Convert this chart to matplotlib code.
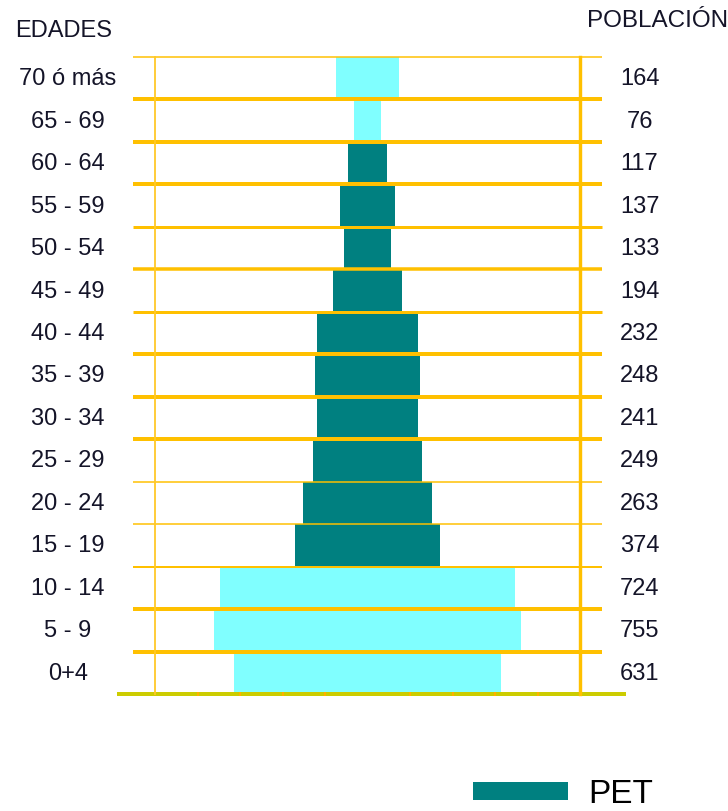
import numpy as np
import matplotlib
matplotlib.use("Agg")
import matplotlib.pyplot as plt
from matplotlib.patches import Patch
from matplotlib import font_manager

# grupos de edad, de abajo hacia arriba
edades = ["0+4", "5 - 9", "10 - 14", "15 - 19", "20 - 24", "25 - 29", "30 - 34",
          "35 - 39", "40 - 44", "45 - 49", "50 - 54", "55 - 59", "60 - 64",
          "65 - 69", "70 ó más"]
poblacion = [631, 755, 724, 374, 263, 249, 241, 248, 232, 194, 133, 137, 117, 76, 164]
# ancho de cada barra (eje de -500 a 500)
ancho = [627, 724, 692, 342, 302, 258, 238, 249, 238, 162, 111, 129, 93, 65, 148]
# grupos en edad de trabajar
pet = [False, False, False, True, True, True, True, True, True, True, True,
       True, True, False, False]

# grosor de las lineas horizontales (px), limite 1..15 desde abajo
grosor = [4, 4, 2, 1.5, 1.5, 4, 4, 4, 3, 3.5, 3, 4, 4, 4, 1.5]

CIAN = "#80FFFF"
VERDE = "#008080"
NARANJA = "#FFC000"
OLIVA = "#CCCC00"
TEXTO = "#141428"

nombres = {f.name for f in font_manager.fontManager.ttflist}
fuente = "Liberation Sans" if "Liberation Sans" in nombres else "DejaVu Sans"
angosta = "Liberation Sans Narrow" if "Liberation Sans Narrow" in nombres else fuente

px = 0.72  # puntos por pixel a 100 dpi

fig = plt.figure(figsize=(7.28, 8.12), dpi=100)
ax = fig.add_axes([155 / 728, 1 - 695 / 812, 425 / 728, 637 / 812])
ax.set_xlim(-500, 500)
ax.set_ylim(0, len(edades))

y = np.arange(len(edades)) + 0.5
ancho = np.array(ancho)
colores = [VERDE if p else CIAN for p in pet]
ax.barh(y, ancho, left=-ancho / 2, height=1.0, color=colores, zorder=2)

# lineas horizontales
for k, lw in enumerate(grosor, start=1):
    ax.plot([-552, 552], [k, k], color=NARANJA, lw=lw * px, clip_on=False,
            zorder=3, solid_capstyle="butt")
ax.plot([-589, 608], [0, 0], color=OLIVA, lw=4 * px, clip_on=False, zorder=3,
        solid_capstyle="butt")

# lineas verticales
ax.plot([-500, -500], [0, len(edades)], color="#FFC828", lw=1.8 * px,
        clip_on=False, zorder=3)
ax.plot([500, 500], [0, len(edades)], color=NARANJA, lw=3.4 * px,
        clip_on=False, zorder=3)

# marcas sobre la linea de base
marcas = [-400, -300, -200, -100, 100, 200, 300, 400]
ax.plot(marcas, [0] * len(marcas), ls="none", marker="|", ms=4 * px,
        mew=2 * px, color="#FFB000", clip_on=False, zorder=4)

for spine in ax.spines.values():
    spine.set_visible(False)
ax.set_xticks([])
ax.set_yticks([])

for yi, etiqueta, valor in zip(y, edades, poblacion):
    ax.text(-705, yi, etiqueta, ha="center", va="center", fontsize=17,
            family=fuente, color=TEXTO, clip_on=False)
    ax.text(640, yi, str(valor), ha="center", va="center", fontsize=17,
            family=fuente, color=TEXTO, clip_on=False)

fig.text(15 / 728, 1 - 31 / 812, "EDADES", ha="left", va="center",
         fontsize=17, family=fuente, color=TEXTO)
fig.text(587 / 728, 1 - 21 / 812, "POBLACIÓN", ha="left", va="center",
         fontsize=17.5, family=fuente, color=TEXTO)

fig.legend(handles=[Patch(facecolor=VERDE, label="PET")], loc="center left",
           bbox_to_anchor=(473 / 728, 1 - 795 / 812), frameon=False,
           prop={"family": angosta, "size": 24}, handlelength=2.85,
           handleheight=0.45, handletextpad=0.6, borderpad=0,
           borderaxespad=0)

fig.savefig("out.png", dpi=100)
